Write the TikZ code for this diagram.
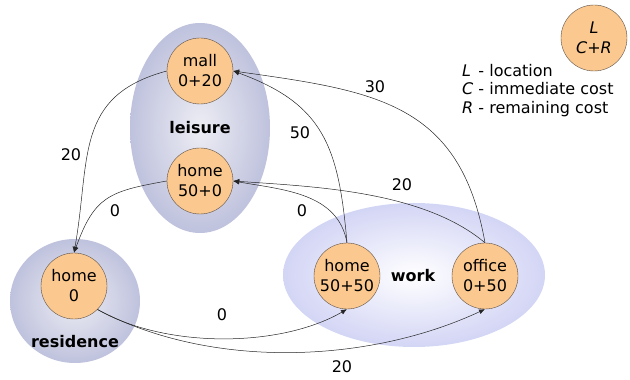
\documentclass[tikz,border=0pt]{standalone}
\usepackage{fontspec}
\setmainfont{DejaVu Sans}
\usepackage{tikz}
\usetikzlibrary{arrows.meta, shapes}
\definecolor{peach}{HTML}{FBC98F}
\definecolor{rim}{HTML}{5E5048}
\definecolor{blob}{HTML}{BFC2DD}
\definecolor{blobcore}{HTML}{EDEDF4}
\definecolor{workblob}{HTML}{D3D5F5}
\tikzstyle{loc} = [circle, draw=rim, fill=peach, minimum size=66pt, inner sep=0pt, align=center, font=\fontsize{16}{20}\selectfont]
\tikzstyle{line} = [draw, -{Latex[length=6pt,width=5pt]}, line width=0.5pt, black!85]
\tikzstyle{cost} = [font=\fontsize{16}{19}\selectfont]
\tikzstyle{area} = [font=\fontsize{16}{19}\selectfont\bfseries]

\begin{document}
\begin{tikzpicture}[x=1pt, y=1pt]
\useasboundingbox (0,0) rectangle (630,380);

%Regions
\shade[inner color=blobcore, outer color=blob] (200,252) ellipse (70pt and 105pt);
\shade[inner color=blobcore, outer color=blob] (75,79) ellipse (65pt and 62pt);
\shade[inner color=white, outer color=workblob] (414,105) ellipse (131pt and 72pt);

\node[area] (leisure) at (200,252) {leisure};
\node[area] (residence) at (75,38) {residence};
\node[area] (work) at (413,104) {work};

%Locations
\node[loc] (mall) at (200,309) {mall\\0+20};
\node[loc] (lhome) at (200,199) {home\\50+0};
\node[loc] (rhome) at (74,94) {home\\0};
\node[loc] (whome) at (347,104) {home\\50+50};
\node[loc] (office) at (485,104) {office\\0+50};

%Legend
\node[loc] (key) at (594,342) {\textit{L}\\\textit{C+R}};
\node[anchor=west, inner sep=0pt, font=\fontsize{16}{18.5}\selectfont] (keytext) at (462,289)
  {\begin{tabular}{@{}l@{\ }l@{}}
   \textit{L} & - location\\
   \textit{C} & - immediate cost\\
   \textit{R} & - remaining cost
   \end{tabular}};

%Moves
\path[line] (mall.west) to[out=195, in=80, looseness=1.2] (rhome.north);
\path[line] (lhome.west) to[out=190, in=70, looseness=1.3] (rhome.north);
\path[line] (whome.north) to[out=95, in=-20, looseness=1.2] (mall.east);
\path[line] (whome.north) to[out=100, in=-10] (lhome.east);
\path[line] (office.north) to[out=100, in=-8, looseness=1.2] (mall.east);
\path[line] (office.north) to[out=140, in=-4, looseness=0.8] (lhome.east);
\path[line] (rhome.-45) to[out=-30, in=-150, looseness=0.8] (whome.south);
\path[line] (rhome.-45) to[out=-28, in=-155, looseness=0.85] (office.south);

%Costs
\node[cost] (mallres) at (71,225) {20};
\node[cost] (lhomeres) at (115,169) {0};
\node[cost] (whomemall) at (300,247) {50};
\node[cost] (whomelhome) at (302,169) {0};
\node[cost] (officemall) at (375,293) {30};
\node[cost] (officelhome) at (402,195) {20};
\node[cost] (reswhome) at (222,65) {0};
\node[cost] (resoffice) at (342,13) {20};

\end{tikzpicture}
\end{document}
